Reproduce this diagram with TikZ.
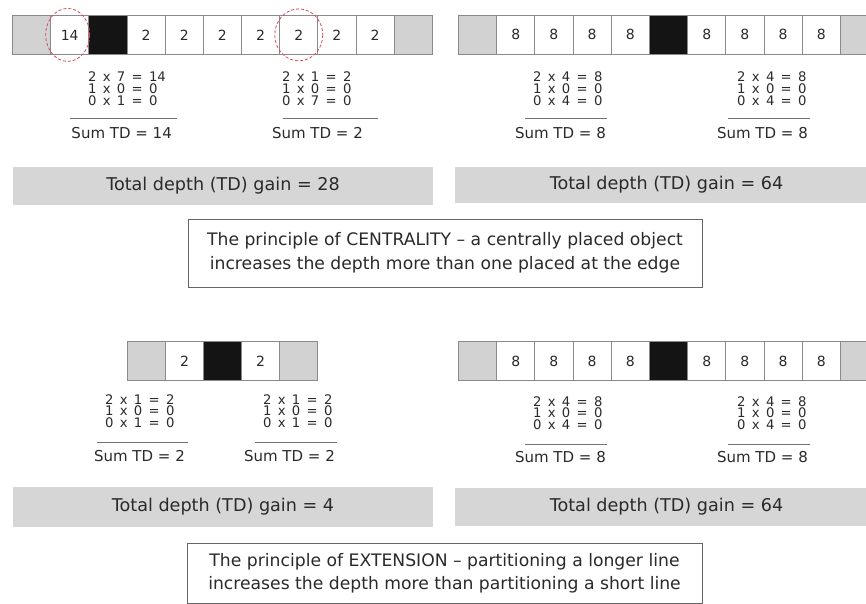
\documentclass[tikz,border=0pt]{standalone}
\usepackage{fontspec}
\setmainfont{DejaVu Sans}
\newfontfamily\eqfont{DejaVu Sans}[WordSpace=1.5]
\definecolor{cellgray}{HTML}{D2D2D2}
\definecolor{bargray}{HTML}{D6D6D6}
\definecolor{edgegray}{HTML}{8A8A8A}
\definecolor{circred}{HTML}{D9475A}
\definecolor{txt}{HTML}{2A2A2A}
\begin{document}
\begin{tikzpicture}[x=1pt,y=-1pt,
 cellbox/.style={draw=edgegray, line width=0.8pt, minimum width=38.2pt, minimum height=39pt, inner sep=0pt, anchor=north west, font=\fontsize{14}{14}\selectfont, text=txt},
 endcell/.style={cellbox, fill=cellgray},
 blackcell/.style={cellbox, fill=black!92},
 numcell/.style={cellbox, fill=white},
 eqs/.style={anchor=north west, align=left, inner sep=0pt, font=\eqfont\fontsize{13.2}{11.6}\selectfont, text=txt},
 sumtd/.style={anchor=east, inner sep=0pt, font=\fontsize{15}{15}\selectfont, text=txt},
 rulel/.style={draw=black!55, line width=0.8pt},
 gainbar/.style={fill=bargray, draw=none, inner sep=0pt, font=\fontsize{17.6}{17.6}\selectfont, text=txt},
 principle/.style={draw=black!60, line width=0.8pt, fill=white, align=center, inner sep=0pt, font=\fontsize{17.2}{23.5}\selectfont, text=txt},
 dashcirc/.style={draw=circred, dash pattern=on 3pt off 2pt, line width=0.8pt}
]
\useasboundingbox (0,0) rectangle (866,604);
\clip (0,0) rectangle (866,604);
\fill[white] (0,0) rectangle (866,604);

% ---------- CENTRALITY ----------
\foreach \t/\lab [count=\i] in {endcell/,numcell/14,blackcell/,numcell/2,numcell/2,numcell/2,numcell/2,numcell/2,numcell/2,numcell/2,endcell/}
  \node[\t] (tl\i) at ({12+(\i-1)*38.18},15) {\lab};
\foreach \t/\lab [count=\i] in {endcell/,numcell/8,numcell/8,numcell/8,numcell/8,blackcell/,numcell/8,numcell/8,numcell/8,numcell/8,endcell/}
  \node[\t] (tr\i) at ({458+(\i-1)*38.2},15) {\lab};

\draw[dashcirc] ([xshift=-2pt]tl2.center) ellipse [x radius=22, y radius=26.5];
\draw[dashcirc] (tl8.center) ellipse [x radius=24, y radius=26];

\node[eqs] (eqa) at (88,72) {2 x 7 = 14\\1 x 0 = 0\\0 x 1 = 0};
\draw[rulel] (70,118) -- (177,118);
\node[sumtd] (suma) at (172,133) {Sum TD = 14};

\node[eqs] (eqb) at (282,72) {2 x 1 = 2\\1 x 0 = 0\\0 x 7 = 0};
\draw[rulel] (283,118) -- (378,118);
\node[sumtd] (sumb) at (363,133) {Sum TD = 2};

\node[eqs] (eqc) at (533,72) {2 x 4 = 8\\1 x 0 = 0\\0 x 4 = 0};
\draw[rulel] (525,118) -- (607,118);
\node[sumtd] (sumc) at (606,133) {Sum TD = 8};

\node[eqs] (eqd) at (737,72) {2 x 4 = 8\\1 x 0 = 0\\0 x 4 = 0};
\draw[rulel] (728,118) -- (810,118);
\node[sumtd] (sumd) at (808,133) {Sum TD = 8};

\node[gainbar, minimum width=420pt, minimum height=38pt] (gain1) at (223,186) {Total depth (TD) gain = 28};
\node[gainbar, minimum width=423pt, minimum height=36pt] (gain2) at (666.5,185) {Total depth (TD) gain = 64};

\node[principle, minimum width=514pt, minimum height=68pt] (centr) at (445,253)
  {The principle of CENTRALITY – a centrally placed object\\increases the depth more than one placed at the edge};

% ---------- EXTENSION ----------
\foreach \t/\lab [count=\i] in {endcell/,numcell/2,blackcell/,numcell/2,endcell/}
  \node[\t] (bl\i) at ({127+(\i-1)*38},341) {\lab};
\foreach \t/\lab [count=\i] in {endcell/,numcell/8,numcell/8,numcell/8,numcell/8,blackcell/,numcell/8,numcell/8,numcell/8,numcell/8,endcell/}
  \node[\t] (br\i) at ({458+(\i-1)*38.2},341) {\lab};

\node[eqs] (eqe) at (105,394) {2 x 1 = 2\\1 x 0 = 0\\0 x 1 = 0};
\draw[rulel] (97,442) -- (188,442);
\node[sumtd] (sume) at (185,456) {Sum TD = 2};

\node[eqs] (eqf) at (263,394) {2 x 1 = 2\\1 x 0 = 0\\0 x 1 = 0};
\draw[rulel] (255,442) -- (337,442);
\node[sumtd] (sumf) at (335,456) {Sum TD = 2};

\node[eqs] (eqg) at (533,396) {2 x 4 = 8\\1 x 0 = 0\\0 x 4 = 0};
\draw[rulel] (525,444) -- (607,444);
\node[sumtd] (sumg) at (606,457) {Sum TD = 8};

\node[eqs] (eqh) at (737,396) {2 x 4 = 8\\1 x 0 = 0\\0 x 4 = 0};
\draw[rulel] (728,444) -- (810,444);
\node[sumtd] (sumh) at (808,457) {Sum TD = 8};

\node[gainbar, minimum width=420pt, minimum height=40pt] (gain3) at (223,507) {Total depth (TD) gain = 4};
\node[gainbar, minimum width=423pt, minimum height=38pt] (gain4) at (666.5,507) {Total depth (TD) gain = 64};

\node[principle, minimum width=515pt, minimum height=60pt] (exten) at (444.5,573)
  {The principle of EXTENSION – partitioning a longer line\\increases the depth more than partitioning a short line};
\end{tikzpicture}
\end{document}
